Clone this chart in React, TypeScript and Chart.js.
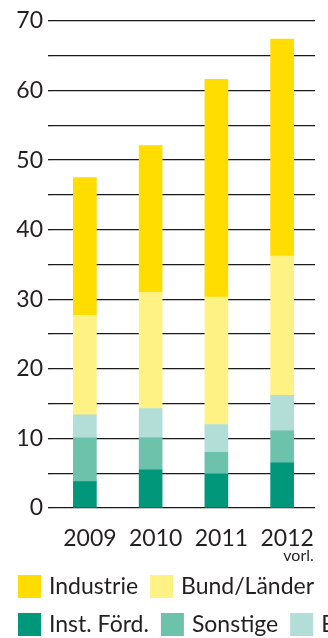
import { useEffect, useRef } from 'react';
import { Chart, registerables } from 'chart.js';

Chart.register(...registerables);

// ---- data ----
const categories = ['2009', '2010', '2011', '2012'];
const instFoerd = [3.8, 5.5, 4.9, 6.5];
const sonstige = [6.3, 4.6, 3.1, 4.6];
const eu = [3.3, 4.2, 4.0, 5.1];
const bundLaender = [14.3, 16.7, 18.3, 20.0];
const industrie = [19.8, 21.1, 31.3, 31.2];
const yMax = 70;
const yGridStep = 5;
const yLabelStep = 10;
const legendRows = [
  ['Industrie', 'Bund/Länder'],
  ['Inst. Förd.', 'Sonstige', 'EU'],
];
const provisionalIndex = 3;
const provisionalNote = 'vorl.';

const FONT = "Lato, 'Open Sans', sans-serif";
const TEXT = '#231f20';

const noteLabel = {
  id: 'noteLabel',
  afterDraw(chart: any) {
    const x = chart.scales.x;
    const ctx = chart.ctx;
    const px = x.getPixelForTick(provisionalIndex) + 5;
    ctx.save();
    ctx.font = `23px ${FONT}`;
    const w = ctx.measureText(categories[provisionalIndex]).width;
    ctx.font = `16px ${FONT}`;
    ctx.fillStyle = TEXT;
    ctx.textAlign = 'right';
    ctx.textBaseline = 'alphabetic';
    ctx.fillText(provisionalNote, px + w / 2, chart.chartArea.bottom + 53);
    ctx.restore();
  },
};

const customLegend = {
  id: 'customLegend',
  afterDraw(chart: any) {
    const ctx = chart.ctx;
    const colors = new Map<string, string>(
      chart.data.datasets.map((d: any) => [d.label, d.backgroundColor])
    );
    ctx.save();
    ctx.font = `23px ${FONT}`;
    ctx.textBaseline = 'middle';
    ctx.textAlign = 'left';
    legendRows.forEach((row, r) => {
      let x = chart.chartArea.left - 34;
      const top = chart.chartArea.bottom + 67 + r * 38;
      row.forEach((name) => {
        ctx.fillStyle = colors.get(name) || '#000';
        ctx.fillRect(x, top, 23, 23);
        ctx.fillStyle = TEXT;
        ctx.fillText(name, x + 31, top + 12);
        x += 31 + ctx.measureText(name).width + 12;
      });
    });
    ctx.restore();
  },
};

export default function App() {
  const ref = useRef<HTMLCanvasElement>(null);
  useEffect(() => {
    if (!ref.current) return;
    const mk = (label: string, data: number[], color: string) => ({
      label,
      data,
      backgroundColor: color,
      borderWidth: 0,
      barThickness: 23,
    });
    const chart = new Chart(ref.current, {
      type: 'bar',
      data: {
        labels: categories,
        datasets: [
          mk('Inst. Förd.', instFoerd, '#00977a'),
          mk('Sonstige', sonstige, '#6cc2ab'),
          mk('EU', eu, '#b3ddd7'),
          mk('Bund/Länder', bundLaender, '#fff285'),
          mk('Industrie', industrie, '#ffdd00'),
        ],
      },
      plugins: [noteLabel, customLegend],
      options: {
        responsive: false,
        animation: false,
        layout: { padding: { left: 3, top: 21, right: 13, bottom: 78 } },
        plugins: {
          tooltip: { enabled: false },
          legend: { display: false },
        },
        scales: {
          x: {
            stacked: true,
            grid: { display: false, drawTicks: false },
            border: { display: false },
            ticks: { color: TEXT, font: { family: FONT, size: 23 }, padding: 17, labelOffset: 5 },
            afterFit: (s: any) => { s.height = 52; },
          },
          y: {
            stacked: true,
            min: 0,
            max: yMax,
            grid: { color: '#1a1a1a', lineWidth: 1.3, tickLength: 4, drawTicks: true },
            border: { display: false },
            ticks: {
              stepSize: yGridStep,
              color: TEXT,
              padding: 5,
              font: { family: FONT, size: 23 },
              callback: (v: any) => (Number(v) % yLabelStep === 0 ? String(v) : ''),
            },
            afterFit: (s: any) => { s.width = 49; },
          },
        },
      },
    } as any);
    return () => chart.destroy();
  }, []);
  return (
    <div style={{ position: 'fixed', left: 0, top: 0, width: 328, height: 638, overflow: 'hidden', background: '#fff' }}>
      <canvas ref={ref} width={328} height={638} style={{ display: 'block', width: 328, height: 638 }} />
    </div>
  );
}
